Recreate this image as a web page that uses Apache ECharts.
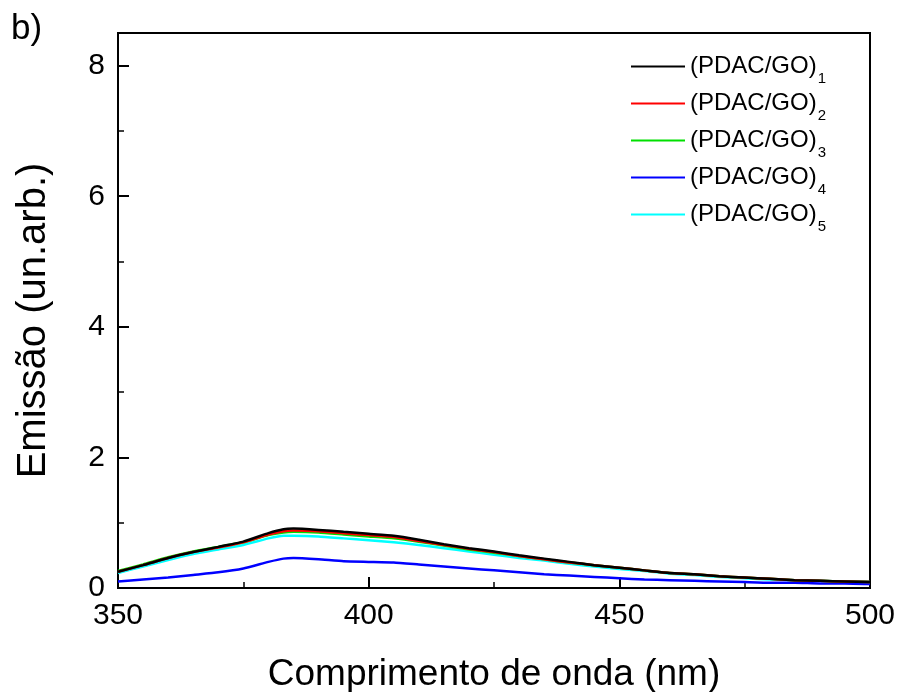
<!DOCTYPE html>
<html>
<head>
<meta charset="utf-8">
<script src="https://cdn.jsdelivr.net/npm/echarts@6/dist/echarts.min.js"></script>
<style>
  html, body { margin: 0; padding: 0; background: #fff; }
  #chart { width: 901px; height: 692px; }
</style>
</head>
<body>
<div id="chart"></div>
<script>
// Wavelength grid (nm)
const wavelength = [350, 355, 360, 365, 370, 375, 380, 383, 385, 390, 395, 400, 405, 410, 415, 420, 425, 430, 435, 440, 445, 450, 455, 460, 465, 470, 475, 480, 485, 490, 495, 500];

// Emission spectra (arb. units) for each bilayer count
const pdacGo1 = [0.25, 0.35, 0.46, 0.55, 0.63, 0.71, 0.84, 0.90, 0.91, 0.89, 0.86, 0.83, 0.80, 0.74, 0.67, 0.61, 0.56, 0.50, 0.45, 0.40, 0.35, 0.31, 0.27, 0.23, 0.21, 0.18, 0.16, 0.14, 0.12, 0.11, 0.10, 0.09];
const pdacGo2 = [0.25, 0.35, 0.46, 0.55, 0.62, 0.70, 0.82, 0.87, 0.88, 0.87, 0.84, 0.81, 0.78, 0.72, 0.66, 0.60, 0.55, 0.49, 0.44, 0.39, 0.35, 0.31, 0.27, 0.23, 0.21, 0.18, 0.16, 0.14, 0.12, 0.11, 0.10, 0.09];
const pdacGo3 = [0.26, 0.36, 0.47, 0.56, 0.63, 0.70, 0.81, 0.85, 0.86, 0.85, 0.82, 0.79, 0.76, 0.71, 0.65, 0.59, 0.54, 0.49, 0.44, 0.39, 0.35, 0.31, 0.27, 0.23, 0.21, 0.18, 0.16, 0.14, 0.12, 0.11, 0.10, 0.09];
const pdacGo4 = [0.10, 0.13, 0.16, 0.20, 0.24, 0.30, 0.40, 0.45, 0.46, 0.44, 0.41, 0.40, 0.39, 0.36, 0.33, 0.30, 0.27, 0.24, 0.21, 0.19, 0.17, 0.15, 0.13, 0.12, 0.11, 0.10, 0.09, 0.08, 0.08, 0.07, 0.07, 0.06];
const pdacGo5 = [0.23, 0.33, 0.43, 0.52, 0.59, 0.66, 0.76, 0.80, 0.80, 0.79, 0.76, 0.73, 0.70, 0.66, 0.61, 0.56, 0.51, 0.46, 0.42, 0.37, 0.33, 0.29, 0.26, 0.22, 0.20, 0.17, 0.15, 0.13, 0.12, 0.11, 0.10, 0.09];

const seriesNames = ['(PDAC/GO)1', '(PDAC/GO)2', '(PDAC/GO)3', '(PDAC/GO)4', '(PDAC/GO)5'];
const seriesData = [pdacGo1, pdacGo2, pdacGo3, pdacGo4, pdacGo5];
const seriesColors = ['#000000', '#ff0000', '#00e000', '#0000ff', '#00ffff'];

// Tick labels
const xTicks = [350, 400, 450, 500];
const yTicks = [0, 2, 4, 6, 8];

const FONT = 'Liberation Sans, Arial, sans-serif';

const chart = echarts.init(document.getElementById('chart'), null, { renderer: 'canvas' });

const series = seriesNames.map((name, i) => ({
  name: name,
  type: 'line',
  showSymbol: false,
  smooth: 0.15,
  z: 10 - i,
  lineStyle: { color: seriesColors[i], width: 2.5 },
  itemStyle: { color: seriesColors[i] },
  data: wavelength.map((w, k) => [w, seriesData[i][k]])
}));

chart.setOption({
  backgroundColor: '#ffffff',
  animation: false,
  grid: {
    left: 118, top: 33, right: 31, bottom: 104,
    outerBoundsMode: 'none', containLabel: false,
    show: true, borderColor: '#000', borderWidth: 2
  },
  xAxis: {
    type: 'value',
    min: 350, max: 500, interval: 50,
    name: 'Comprimento de onda (nm)',
    nameLocation: 'middle',
    nameGap: 68,
    nameTextStyle: { fontFamily: FONT, fontSize: 37, color: '#000' },
    axisLine: { show: true, onZero: false, lineStyle: { color: '#000', width: 2 } },
    axisTick: { show: true, inside: true, length: 11, lineStyle: { color: '#000', width: 2 } },
    minorTick: { show: true, splitNumber: 2, length: 6, lineStyle: { color: '#000', width: 1.5 } },
    splitLine: { show: false },
    minorSplitLine: { show: false },
    axisLabel: {
      fontFamily: FONT, fontSize: 30, color: '#000', margin: 13,
      formatter: v => (xTicks.includes(v) ? String(v) : '')
    }
  },
  yAxis: {
    type: 'value',
    min: 0, max: 8.5, interval: 2,
    name: 'Emissão (un.arb.)',
    nameLocation: 'middle',
    nameRotate: 90,
    nameGap: 64,
    nameTextStyle: { fontFamily: FONT, fontSize: 40, color: '#000', padding: [0, 20, 0, 0] },
    axisLine: { show: true, lineStyle: { color: '#000', width: 2 } },
    axisTick: { show: true, inside: true, length: 11, lineStyle: { color: '#000', width: 2 } },
    minorTick: { show: true, splitNumber: 2, length: 6, lineStyle: { color: '#000', width: 1.5 } },
    splitLine: { show: false },
    minorSplitLine: { show: false },
    axisLabel: {
      fontFamily: FONT, fontSize: 30, color: '#000', margin: 13,
      showMaxLabel: false,
      formatter: v => (yTicks.includes(v) ? String(v) : '')
    }
  },
  legend: {
    show: true,
    orient: 'vertical',
    left: 626,
    top: 42,
    itemWidth: 54,
    itemHeight: 2,
    itemGap: -2,
    icon: 'rect',
    data: seriesNames,
    formatter: name => '{a|' + name.slice(0, -1) + '}{s|' + name.slice(-1) + '}',
    textStyle: {
      fontFamily: FONT,
      color: '#000',
      rich: {
        a: { fontFamily: FONT, fontSize: 24, color: '#000', lineHeight: 26 },
        s: { fontFamily: FONT, fontSize: 15, color: '#000', lineHeight: 15, padding: [24, 0, 0, 1] }
      }
    }
  },
  graphic: [{
    type: 'text',
    left: 11, top: 12,
    style: { text: 'b)', fontFamily: FONT, fontSize: 35, fill: '#000' }
  }],
  series: series
});
</script>
</body>
</html>
